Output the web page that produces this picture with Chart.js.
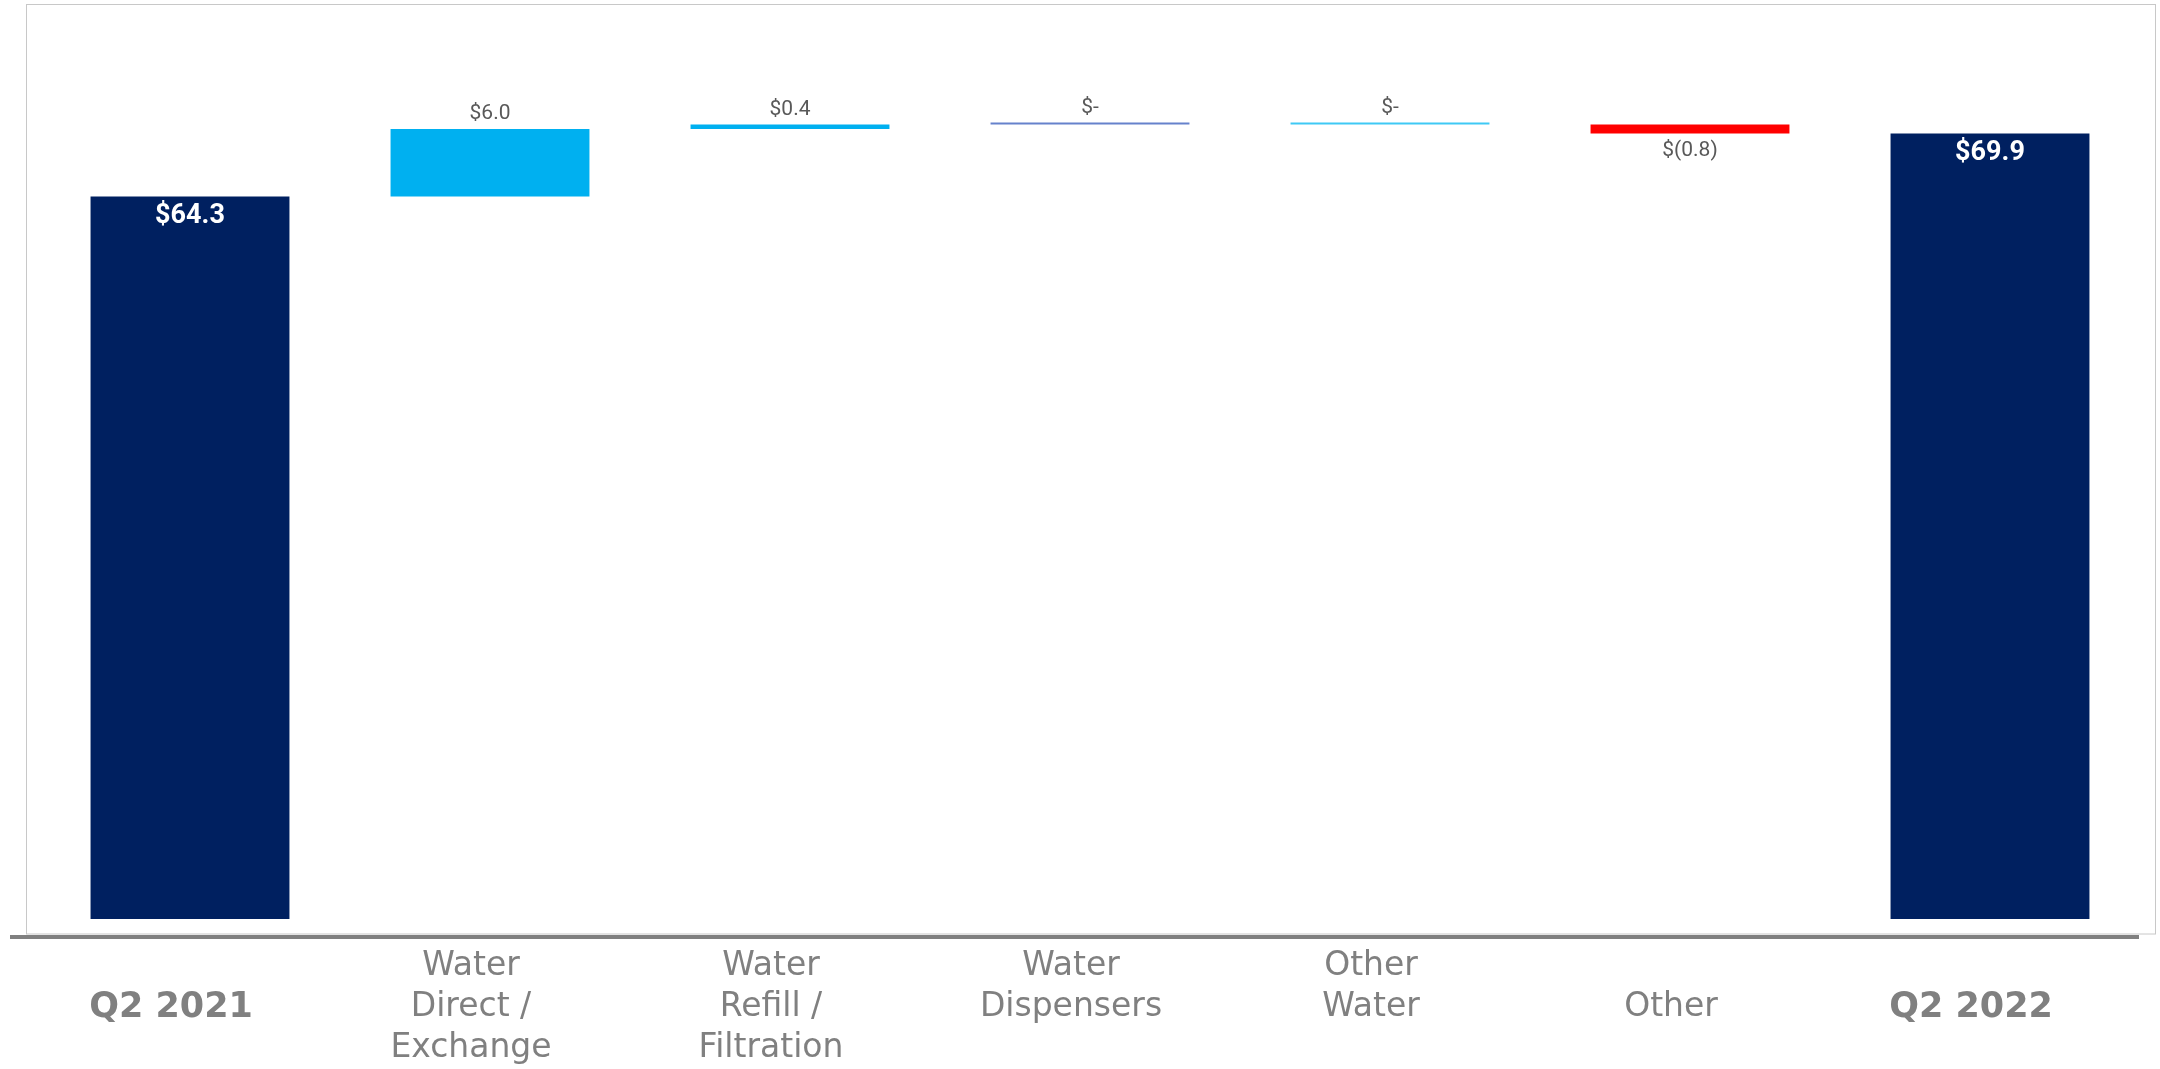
<!DOCTYPE html>
<html>
<head>
<meta charset="utf-8">
<title>Q2 revenue bridge</title>
<script src="https://cdn.jsdelivr.net/npm/chart.js@4.4.1/dist/chart.umd.min.js"></script>
<style>
  html, body { margin: 0; padding: 0; background: #fff; }
  #wrap { position: relative; width: 2160px; height: 1069px; }
</style>
</head>
<body>
<div id="wrap"><canvas id="bridge" width="2160" height="1069"></canvas></div>
<script>
const categories = [
  "Q2 2021",
  ["Water", "Direct /", "Exchange"],
  ["Water", "Refill /", "Filtration"],
  ["Water", "Dispensers"],
  ["Other", "Water"],
  "Other",
  "Q2 2022"
];
// opening and closing totals, with the changes between them
const startTotal = 64.3;
const changes = [6.0, 0.4, 0, 0, -0.8];
const endTotal = 69.9;

const barColors = ["#002060", "#00B0F0", "#00B0F0", "#6682CC", "#3FC9F5", "#FF0000", "#002060"];

// floating [from, to] ranges for the bridge
const ranges = [[0, startTotal]];
let running = startTotal;
changes.forEach(c => {
  ranges.push([running, running + c]);
  running += c;
});
ranges.push([0, endTotal]);
const labelValues = [startTotal, ...changes, endTotal];

function money(v) {
  if (Math.abs(v) < 0.05) return "$-";
  if (v < 0) return "$(" + Math.abs(v).toFixed(1) + ")";
  return "$" + v.toFixed(1);
}

/* ---------- frame + heavy base rule ---------- */
const frame = {
  id: "frame",
  beforeDraw(chart) {
    const ctx = chart.ctx;
    ctx.save();
    ctx.strokeStyle = "#C8C8C8";
    ctx.lineWidth = 1;
    ctx.strokeRect(26.5, 4.5, 2129, 929.5);
    ctx.fillStyle = "#808080";
    ctx.fillRect(10, 935, 2129, 4);
    ctx.restore();
  }
};

/* ---------- value labels ---------- */
const valueLabels = {
  id: "valueLabels",
  afterDatasetsDraw(chart) {
    const ctx = chart.ctx;
    const bars = chart.getDatasetMeta(0).data;
    ctx.save();
    ctx.textAlign = "center";
    ctx.textBaseline = "middle";
    bars.forEach((bar, i) => {
      const v = labelValues[i];
      const top = Math.min(bar.y, bar.base);
      const bottom = Math.max(bar.y, bar.base);
      if (i === 0 || i === bars.length - 1) {
        ctx.font = "bold 27px Roboto";
        ctx.fillStyle = "#FFFFFF";
        ctx.fillText(money(v), bar.x, top + 20);
      } else {
        ctx.font = "21px Roboto";
        ctx.fillStyle = "#595959";
        if (v < 0) ctx.fillText(money(v), bar.x, bottom + 17);
        else ctx.fillText(money(v), bar.x, top - 15);
      }
    });
    ctx.restore();
  }
};

new Chart(document.getElementById("bridge"), {
  type: "bar",
  data: {
    labels: categories,
    datasets: [{
      data: ranges,
      backgroundColor: barColors,
      borderWidth: 0,
      barPercentage: 0.663,
      categoryPercentage: 1,
      minBarLength: 2
    }]
  },
  options: {
    responsive: false,
    devicePixelRatio: 1,
    animation: false,
    layout: { padding: { left: 40, right: 20, top: 20, bottom: 0 } },
    plugins: {
      legend: { display: false },
      tooltip: { enabled: false }
    },
    scales: {
      x: {
        grid: { display: false, drawTicks: false },
        border: { display: false },
        afterFit: scale => { scale.height = 150; },
        ticks: {
          autoSkip: false,
          maxRotation: 0,
          padding: 27,
          labelOffset: -19,
          color: "#808080",
          // one-line names sit on the middle row
          callback: function (value) {
            const l = this.getLabelForValue(value);
            return Array.isArray(l) ? l : ["", l];
          },
          font: ctx => (ctx.index === 0 || ctx.index === 6)
            ? { family: "DejaVu Sans", size: 35, weight: "bold", lineHeight: "41px" }
            : { family: "DejaVu Sans", size: 33, weight: "normal", lineHeight: "41px" }
        }
      },
      y: {
        display: false,
        min: 0,
        max: 80
      }
    }
  },
  plugins: [frame, valueLabels]
});
</script>
</body>
</html>
